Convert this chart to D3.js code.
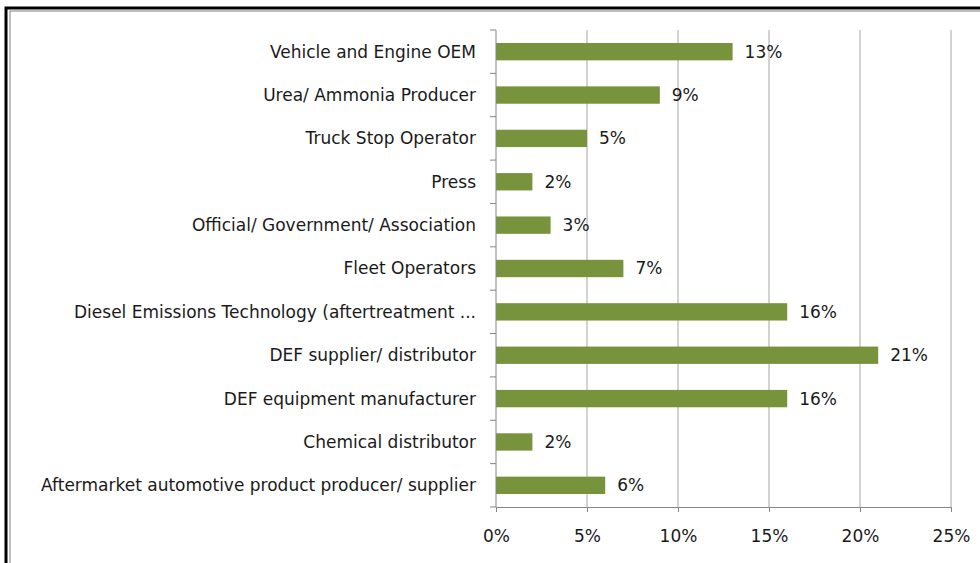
<!DOCTYPE html>
<html lang="en">
  <head>
    <meta charset="UTF-8" />
    <title>Respondents by sector</title>
    <style>
      body {
        margin: 0;
        background: #fff;
        font-family: "DejaVu Sans", sans-serif;
      }
      svg text {
        fill: #1a1a1a;
        font-size: 17px;
      }
    </style>
  </head>
  <body>
    <div id="chart"></div>
    <script src="https://d3js.org/d3.v7.min.js"></script>
    <script>
      const categories = [
        "Vehicle and Engine OEM",
        "Urea/ Ammonia Producer",
        "Truck Stop Operator",
        "Press",
        "Official/ Government/ Association",
        "Fleet Operators",
        "Diesel Emissions Technology (aftertreatment ...",
        "DEF supplier/ distributor",
        "DEF equipment manufacturer",
        "Chemical distributor",
        "Aftermarket automotive product producer/ supplier",
      ];
      const shares = [13, 9, 5, 2, 3, 7, 16, 21, 16, 2, 6];
      const tickValues = [0, 5, 10, 15, 20, 25];

      const width = 980;
      const height = 563;
      const svg = d3
        .select("#chart")
        .append("svg")
        .attr("width", width)
        .attr("height", height);

      // outer frame (double line, runs off the right and bottom edge)
      svg.append("rect")
        .attr("x", 6).attr("y", 8)
        .attr("width", 1000).attr("height", 600)
        .attr("fill", "none").attr("stroke", "#000").attr("stroke-width", 3);
      svg.append("rect")
        .attr("x", 10).attr("y", 11)
        .attr("width", 1000).attr("height", 600)
        .attr("fill", "none").attr("stroke", "#808080").attr("stroke-width", 1);

      const x = d3.scaleLinear().domain([0, 25]).range([496, 951]);
      const y = d3.scaleBand().domain(categories).range([30, 507]).paddingInner(0.6).paddingOuter(0.3);
      const step = y.step();

      // grid
      svg.append("g")
        .selectAll("line")
        .data(tickValues.slice(1))
        .join("line")
        .attr("x1", (d) => x(d)).attr("x2", (d) => x(d))
        .attr("y1", 30).attr("y2", 507)
        .attr("stroke", "#a6a6a6").attr("stroke-width", 1);

      // bars
      svg.append("g")
        .selectAll("rect")
        .data(shares)
        .join("rect")
        .attr("x", x(0))
        .attr("y", (d, i) => y(categories[i]))
        .attr("width", (d) => x(d) - x(0))
        .attr("height", y.bandwidth())
        .attr("fill", "#77933c");

      // value labels
      svg.append("g")
        .selectAll("text")
        .data(shares)
        .join("text")
        .attr("x", (d) => x(d) + 12)
        .attr("y", (d, i) => y(categories[i]) + y.bandwidth() / 2)
        .attr("dy", "0.35em")
        .text((d) => d + "%");

      // category labels
      svg.append("g")
        .selectAll("text")
        .data(categories)
        .join("text")
        .attr("x", 476)
        .attr("y", (d) => y(d) + y.bandwidth() / 2)
        .attr("dy", "0.35em")
        .attr("text-anchor", "end")
        .text((d) => d);

      // y axis line and ticks between categories
      svg.append("line")
        .attr("x1", x(0)).attr("x2", x(0))
        .attr("y1", 30).attr("y2", 507)
        .attr("stroke", "#868686");
      svg.append("g")
        .selectAll("line")
        .data(d3.range(categories.length + 1))
        .join("line")
        .attr("x1", x(0) - 6).attr("x2", x(0))
        .attr("y1", (i) => 30 + i * step).attr("y2", (i) => 30 + i * step)
        .attr("stroke", "#868686");

      // x axis
      const xAxis = svg.append("g")
        .attr("transform", "translate(0,507)")
        .call(d3.axisBottom(x).tickValues(tickValues).tickFormat((d) => d + "%").tickSize(5).tickPadding(18));
      xAxis.select(".domain").attr("stroke", "#868686");
      xAxis.selectAll(".tick line").attr("stroke", "#868686");
      xAxis.selectAll("text").attr("font-family", "'DejaVu Sans', sans-serif").attr("font-size", 17).attr("fill", "#1a1a1a");
    </script>
  </body>
</html>
